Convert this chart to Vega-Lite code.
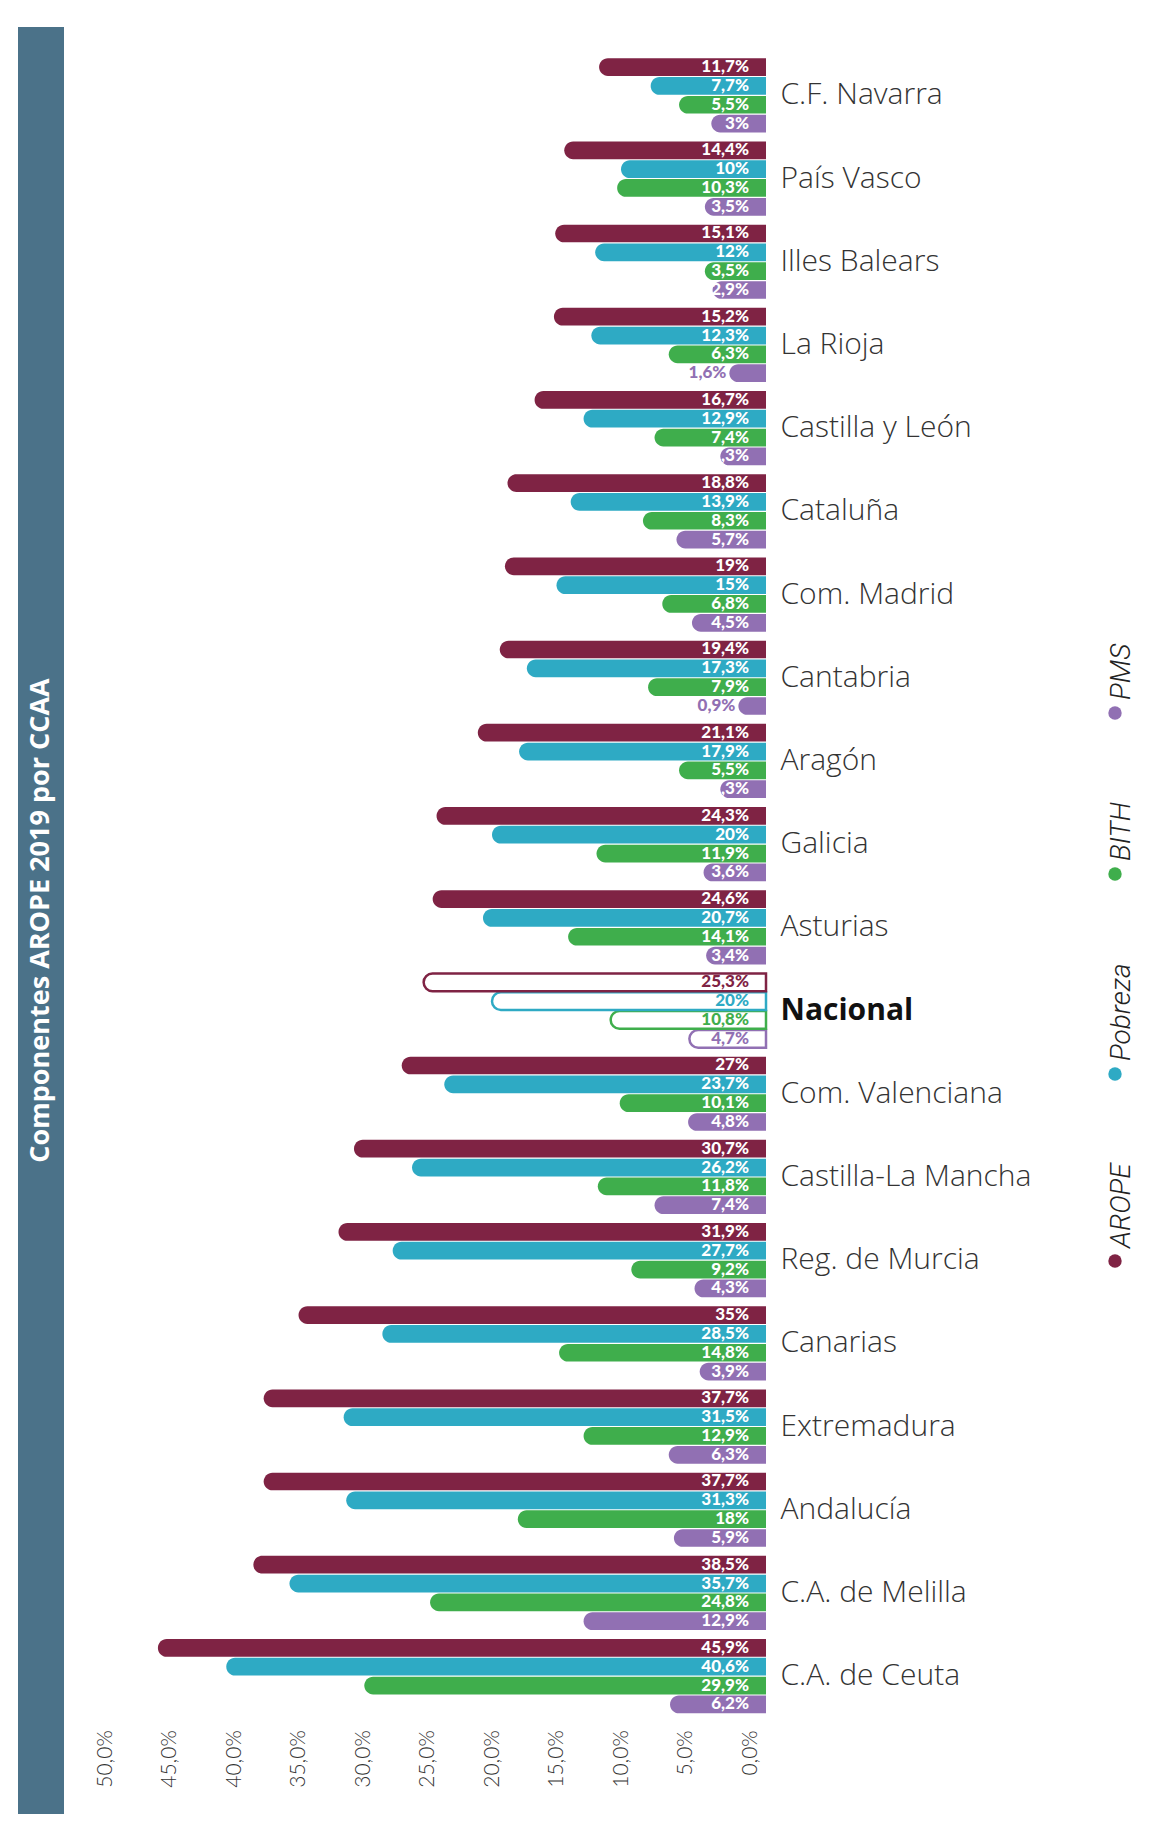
{
  "$schema": "https://vega.github.io/schema/vega-lite/v6.json",
  "padding": {"left": 18, "top": 27, "right": 0, "bottom": 0},
  "background": "white",
  "spacing": 30,
  "center": true,
  "config": {"view": {"stroke": null}},
  "hconcat": [
    {
      "width": 46,
      "height": 1787,
      "view": {"fill": "#4b7289", "stroke": null},
      "data": {"values": [{"titulo": "Componentes AROPE 2019 por CCAA"}]},
      "mark": {"type": "text", "angle": 270, "font": "Open Sans", "fontWeight": "bold", "fontSize": 27, "color": "white", "align": "center", "baseline": "middle"},
      "encoding": {"text": {"field": "titulo"}}
    },
    {
      "width": 661,
      "height": 1664,
      "data": {"values": [
        {"ccaa": "C.A. de Ceuta", "serie": "PMS", "valor": 6.2},
        {"ccaa": "C.A. de Ceuta", "serie": "BITH", "valor": 29.9},
        {"ccaa": "C.A. de Ceuta", "serie": "Pobreza", "valor": 40.6},
        {"ccaa": "C.A. de Ceuta", "serie": "AROPE", "valor": 45.9},
        {"ccaa": "C.A. de Melilla", "serie": "PMS", "valor": 12.9},
        {"ccaa": "C.A. de Melilla", "serie": "BITH", "valor": 24.8},
        {"ccaa": "C.A. de Melilla", "serie": "Pobreza", "valor": 35.7},
        {"ccaa": "C.A. de Melilla", "serie": "AROPE", "valor": 38.5},
        {"ccaa": "Andalucía", "serie": "PMS", "valor": 5.9},
        {"ccaa": "Andalucía", "serie": "BITH", "valor": 18},
        {"ccaa": "Andalucía", "serie": "Pobreza", "valor": 31.3},
        {"ccaa": "Andalucía", "serie": "AROPE", "valor": 37.7},
        {"ccaa": "Extremadura", "serie": "PMS", "valor": 6.3},
        {"ccaa": "Extremadura", "serie": "BITH", "valor": 12.9},
        {"ccaa": "Extremadura", "serie": "Pobreza", "valor": 31.5},
        {"ccaa": "Extremadura", "serie": "AROPE", "valor": 37.7},
        {"ccaa": "Canarias", "serie": "PMS", "valor": 3.9},
        {"ccaa": "Canarias", "serie": "BITH", "valor": 14.8},
        {"ccaa": "Canarias", "serie": "Pobreza", "valor": 28.5},
        {"ccaa": "Canarias", "serie": "AROPE", "valor": 35},
        {"ccaa": "Reg. de Murcia", "serie": "PMS", "valor": 4.3},
        {"ccaa": "Reg. de Murcia", "serie": "BITH", "valor": 9.2},
        {"ccaa": "Reg. de Murcia", "serie": "Pobreza", "valor": 27.7},
        {"ccaa": "Reg. de Murcia", "serie": "AROPE", "valor": 31.9},
        {"ccaa": "Castilla-La Mancha", "serie": "PMS", "valor": 7.4},
        {"ccaa": "Castilla-La Mancha", "serie": "BITH", "valor": 11.8},
        {"ccaa": "Castilla-La Mancha", "serie": "Pobreza", "valor": 26.2},
        {"ccaa": "Castilla-La Mancha", "serie": "AROPE", "valor": 30.7},
        {"ccaa": "Com. Valenciana", "serie": "PMS", "valor": 4.8},
        {"ccaa": "Com. Valenciana", "serie": "BITH", "valor": 10.1},
        {"ccaa": "Com. Valenciana", "serie": "Pobreza", "valor": 23.7},
        {"ccaa": "Com. Valenciana", "serie": "AROPE", "valor": 27},
        {"ccaa": "Nacional", "serie": "PMS", "valor": 4.7},
        {"ccaa": "Nacional", "serie": "BITH", "valor": 10.8},
        {"ccaa": "Nacional", "serie": "Pobreza", "valor": 20},
        {"ccaa": "Nacional", "serie": "AROPE", "valor": 25.3},
        {"ccaa": "Asturias", "serie": "PMS", "valor": 3.4},
        {"ccaa": "Asturias", "serie": "BITH", "valor": 14.1},
        {"ccaa": "Asturias", "serie": "Pobreza", "valor": 20.7},
        {"ccaa": "Asturias", "serie": "AROPE", "valor": 24.6},
        {"ccaa": "Galicia", "serie": "PMS", "valor": 3.6},
        {"ccaa": "Galicia", "serie": "BITH", "valor": 11.9},
        {"ccaa": "Galicia", "serie": "Pobreza", "valor": 20},
        {"ccaa": "Galicia", "serie": "AROPE", "valor": 24.3},
        {"ccaa": "Aragón", "serie": "PMS", "valor": 2.3},
        {"ccaa": "Aragón", "serie": "BITH", "valor": 5.5},
        {"ccaa": "Aragón", "serie": "Pobreza", "valor": 17.9},
        {"ccaa": "Aragón", "serie": "AROPE", "valor": 21.1},
        {"ccaa": "Cantabria", "serie": "PMS", "valor": 0.9},
        {"ccaa": "Cantabria", "serie": "BITH", "valor": 7.9},
        {"ccaa": "Cantabria", "serie": "Pobreza", "valor": 17.3},
        {"ccaa": "Cantabria", "serie": "AROPE", "valor": 19.4},
        {"ccaa": "Com. Madrid", "serie": "PMS", "valor": 4.5},
        {"ccaa": "Com. Madrid", "serie": "BITH", "valor": 6.8},
        {"ccaa": "Com. Madrid", "serie": "Pobreza", "valor": 15},
        {"ccaa": "Com. Madrid", "serie": "AROPE", "valor": 19},
        {"ccaa": "Cataluña", "serie": "PMS", "valor": 5.7},
        {"ccaa": "Cataluña", "serie": "BITH", "valor": 8.3},
        {"ccaa": "Cataluña", "serie": "Pobreza", "valor": 13.9},
        {"ccaa": "Cataluña", "serie": "AROPE", "valor": 18.8},
        {"ccaa": "Castilla y León", "serie": "PMS", "valor": 2.3},
        {"ccaa": "Castilla y León", "serie": "BITH", "valor": 7.4},
        {"ccaa": "Castilla y León", "serie": "Pobreza", "valor": 12.9},
        {"ccaa": "Castilla y León", "serie": "AROPE", "valor": 16.7},
        {"ccaa": "La Rioja", "serie": "PMS", "valor": 1.6},
        {"ccaa": "La Rioja", "serie": "BITH", "valor": 6.3},
        {"ccaa": "La Rioja", "serie": "Pobreza", "valor": 12.3},
        {"ccaa": "La Rioja", "serie": "AROPE", "valor": 15.2},
        {"ccaa": "Illes Balears", "serie": "PMS", "valor": 2.9},
        {"ccaa": "Illes Balears", "serie": "BITH", "valor": 3.5},
        {"ccaa": "Illes Balears", "serie": "Pobreza", "valor": 12},
        {"ccaa": "Illes Balears", "serie": "AROPE", "valor": 15.1},
        {"ccaa": "País Vasco", "serie": "PMS", "valor": 3.5},
        {"ccaa": "País Vasco", "serie": "BITH", "valor": 10.3},
        {"ccaa": "País Vasco", "serie": "Pobreza", "valor": 10},
        {"ccaa": "País Vasco", "serie": "AROPE", "valor": 14.4},
        {"ccaa": "C.F. Navarra", "serie": "PMS", "valor": 3},
        {"ccaa": "C.F. Navarra", "serie": "BITH", "valor": 5.5},
        {"ccaa": "C.F. Navarra", "serie": "Pobreza", "valor": 7.7},
        {"ccaa": "C.F. Navarra", "serie": "AROPE", "valor": 11.7}
      ]},
      "transform": [
        {"calculate": "replace(format(datum.valor, '.1~f'), '.', ',') + '%'", "as": "etiqueta"}
      ],
      "encoding": {
        "y": {
          "field": "ccaa", "type": "nominal",
          "sort": ["C.F. Navarra", "País Vasco", "Illes Balears", "La Rioja", "Castilla y León", "Cataluña", "Com. Madrid", "Cantabria", "Aragón", "Galicia", "Asturias", "Nacional", "Com. Valenciana", "Castilla-La Mancha", "Reg. de Murcia", "Canarias", "Extremadura", "Andalucía", "C.A. de Melilla", "C.A. de Ceuta"],
          "scale": {"paddingInner": 0.108, "paddingOuter": 0.054},
          "axis": {
            "orient": "right", "title": null, "domain": false, "ticks": false,
            "labelPadding": 14, "labelFont": "Open Sans", "labelFontSize": 30,
            "labelLimit": 400,
            "labelFontWeight": {"condition": {"test": "datum.value === 'Nacional'", "value": "bold"}, "value": 300},
            "labelColor": {"condition": {"test": "datum.value === 'Nacional'", "value": "#111111"}, "value": "#333333"}
          }
        },
        "yOffset": {
          "field": "serie", "type": "nominal",
          "sort": ["AROPE", "Pobreza", "BITH", "PMS"],
          "scale": {"paddingInner": 0.06}
        }
      },
      "layer": [
        {
          "mark": {"type": "bar", "cornerRadiusTopLeft": 9, "cornerRadiusBottomLeft": 9},
          "encoding": {
            "x": {
              "field": "valor", "type": "quantitative",
              "scale": {"domain": [-1.24, 50], "reverse": true, "nice": false, "zero": false},
              "axis": {
                "orient": "bottom", "title": null, "grid": false, "domain": false, "ticks": false,
                "values": [0, 5, 10, 15, 20, 25, 30, 35, 40, 45, 50],
                "labelExpr": "replace(format(datum.value, '.1f'), '.', ',') + '%'",
                "labelAngle": 270, "labelFont": "Lato", "labelFontWeight": 300,
                "labelFontSize": 21, "labelColor": "#333333", "labelPadding": 12
              }
            },
            "x2": {"datum": -1.24},
            "fill": {
              "condition": {"test": "datum.ccaa === 'Nacional'", "value": "white"},
              "field": "serie", "type": "nominal",
              "scale": {"domain": ["PMS", "BITH", "Pobreza", "AROPE"], "range": ["#9170b3", "#3fae4c", "#2eaac4", "#7f2344"]},
              "legend": {
                "orient": "none", "legendX": 1083, "legendY": 672,
                "direction": "vertical", "title": null,
                "symbolType": "circle", "symbolSize": 180, "symbolStrokeWidth": 0,
                "labelFont": "Roboto", "labelFontStyle": "italic", "labelFontWeight": 300, "labelFontSize": 28,
                "labelColor": "#222222", "labelOffset": -7, "rowPadding": 82,
                "encode": {"labels": {"update": {"angle": {"value": -90}, "dx": {"value": 13}}}}
              }
            },
            "stroke": {
              "field": "serie", "type": "nominal",
              "scale": {"domain": ["PMS", "BITH", "Pobreza", "AROPE"], "range": ["#9170b3", "#3fae4c", "#2eaac4", "#7f2344"]},
              "legend": null
            },
            "strokeWidth": {"condition": {"test": "datum.ccaa === 'Nacional'", "value": 2.5}, "value": 0}
          }
        },
        {
          "transform": [{"filter": "datum.ccaa === 'Nacional' || datum.valor >= 2"}],
          "mark": {"type": "text", "align": "right", "baseline": "middle", "dx": -1, "font": "Lato", "fontWeight": 900, "fontSize": 17},
          "encoding": {
            "x": {"datum": 0, "type": "quantitative"},
            "text": {"field": "etiqueta"},
            "color": {
              "condition": {"test": "datum.ccaa !== 'Nacional'", "value": "white"},
              "field": "serie", "type": "nominal",
              "scale": {"domain": ["PMS", "BITH", "Pobreza", "AROPE"], "range": ["#9170b3", "#3fae4c", "#2eaac4", "#7f2344"]},
              "legend": null
            }
          }
        },
        {
          "transform": [{"filter": "datum.ccaa !== 'Nacional' && datum.valor < 2"}],
          "mark": {"type": "text", "align": "right", "baseline": "middle", "dx": -3, "font": "Lato", "fontWeight": 900, "fontSize": 17},
          "encoding": {
            "x": {"field": "valor", "type": "quantitative"},
            "text": {"field": "etiqueta"},
            "color": {
              "field": "serie", "type": "nominal",
              "scale": {"domain": ["PMS", "BITH", "Pobreza", "AROPE"], "range": ["#9170b3", "#3fae4c", "#2eaac4", "#7f2344"]},
              "legend": null
            }
          }
        }
      ]
    }
  ]
}
